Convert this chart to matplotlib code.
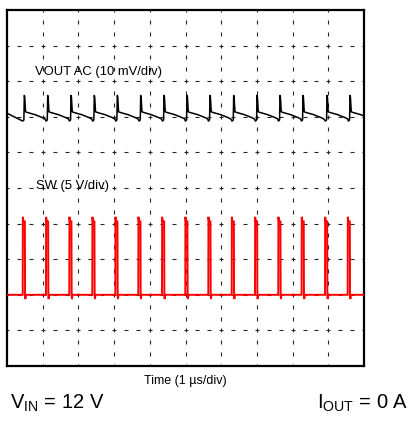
import matplotlib
matplotlib.use("Agg")
import matplotlib.pyplot as plt
import numpy as np

plt.rcParams['font.family'] = ['Liberation Sans', 'DejaVu Sans']
plt.rcParams['mathtext.fontset'] = 'custom'
plt.rcParams['mathtext.rm'] = 'Liberation Sans'
plt.rcParams['mathtext.it'] = 'Liberation Sans'

# Screen is 10 x 10 divisions, time in us (1 us/div)
n_div = 10

# VOUT AC (divisions from bottom): spike times and one cycle's shape
vout_spikes = [0.485, 1.140, 1.793, 2.445, 3.090, 3.745, 4.398, 5.042,
               5.686, 6.350, 7.003, 7.647, 8.291, 8.964, 9.608]
vout_cycle_dt = [-0.045, -0.012, 0.0, 0.012, 0.035, 0.09, 0.30, 0.50, 0.58]
vout_cycle_lv = [6.88, 6.91, 7.60, 7.55, 7.14, 7.12, 7.06, 6.98, 6.94]
vout_start = 7.10

# SW (divisions from bottom): rising-edge times and one pulse's shape
sw_edges = [0.440, 1.092, 1.745, 2.389, 3.034, 3.678, 4.342, 4.994,
            5.639, 6.294, 6.947, 7.599, 8.252, 8.908, 9.543]
sw_cycle_dt = [-0.004, 0.0, 0.004, 0.015, 0.060, 0.066, 0.074, 0.090]
sw_cycle_lv = [2.00, 2.00, 4.19, 4.08, 4.06, 2.00, 1.88, 2.00]
sw_base = 2.00

vout_label = "VOUT AC (10 mV/div)"
sw_label = "SW (5 V/div)"
x_label = "Time (1 µs/div)"
vin_text = r"V$_{\mathrm{IN}}$ = 12 V"
iout_text = r"I$_{\mathrm{OUT}}$ = 0 A"


def build_trace(times, dts, levels, start, end):
    xs = [0.0]
    ys = [start]
    for t in times:
        xs += [t + d for d in dts]
        ys += list(levels)
    xs.append(n_div)
    ys.append(end)
    return xs, ys


fig = plt.figure(figsize=(4.09, 4.25), dpi=100)
W, H = 409, 425
ax = fig.add_axes([7 / W, (H - 366) / H, 357 / W, 356 / H])
ax.set_xlim(0, n_div)
ax.set_ylim(0, n_div)
ax.set_xticks([])
ax.set_yticks([])
for s in ax.spines.values():
    s.set_linewidth(1.6)
    s.set_color('black')

# scope graticule: short dashes every 1/3 division
sub = np.arange(0, n_div * 3 + 1) / 3.0
for k in range(1, n_div):
    ax.plot(np.full_like(sub, k), sub, linestyle='none', marker='|',
            markersize=2.4, markeredgewidth=0.8, color='0.15', zorder=1)
    ax.plot(sub, np.full_like(sub, k), linestyle='none', marker='_',
            markersize=3.0, markeredgewidth=0.8, color='0.15', zorder=1)

vx, vy = build_trace(vout_spikes, vout_cycle_dt, vout_cycle_lv, vout_start, 7.0)
ax.plot(vx, vy, color='black', lw=1.1, zorder=3)

sx, sy = build_trace(sw_edges, sw_cycle_dt, sw_cycle_lv, sw_base, sw_base)
ax.plot(sx, sy, color='#ff0000', lw=1.4, zorder=3, solid_joinstyle='miter')

ax.text(0.78, 8.26, vout_label, fontsize=9.4, va='center', ha='left')
ax.text(0.80, 5.07, sw_label, fontsize=9.4, va='center', ha='left')

fig.text(185.5 / W, 1 - 381 / H, x_label, fontsize=9.0, ha='center', va='center')
fig.text(10 / W, 1 - 409 / H, vin_text, fontsize=14.5, ha='left', va='baseline')
fig.text(408 / W, 1 - 409 / H, iout_text, fontsize=14.5, ha='right', va='baseline')

fig.savefig("out.png", dpi=100)
